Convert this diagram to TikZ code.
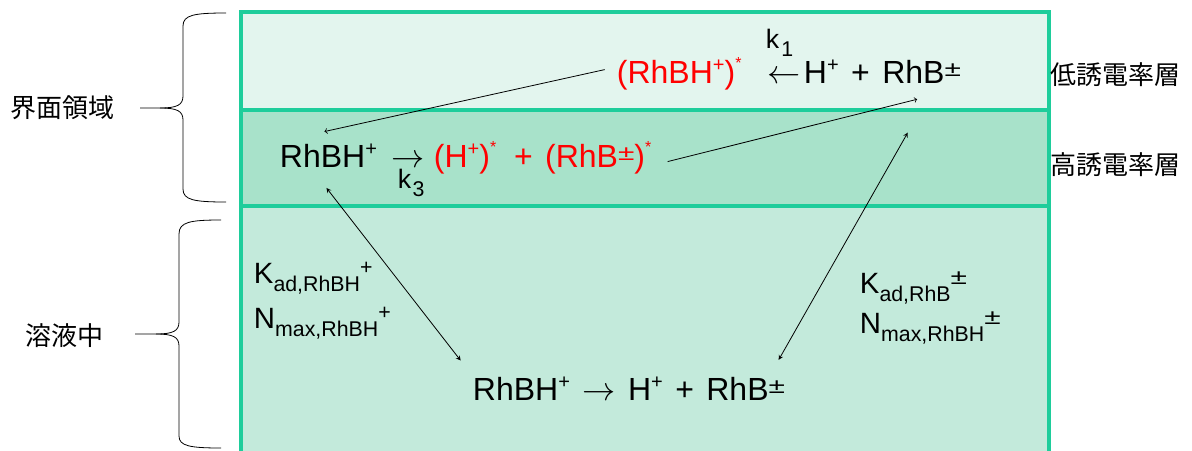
\documentclass[tikz,border=0pt]{standalone}
\usepackage{graphicx}
\usepackage{fontspec}
\setmainfont{Liberation Sans}[WordSpace=1.4]
\newfontfamily\jpfont{Noto Sans CJK JP}
\usetikzlibrary{arrows}

\definecolor{edgegreen}{RGB}{30,205,155}
\definecolor{lowband}{RGB}{227,245,238}
\definecolor{highband}{RGB}{168,226,202}
\definecolor{bulkband}{RGB}{195,234,219}

\newcommand\wpm{\scalebox{1.4}[1]{±}}
\newcommand\chp{\raisebox{0.36em}{\fontsize{15}{15}\selectfont +}}
\newcommand\chpm{\raisebox{0.2em}{\fontsize{16}{16}\selectfont \wpm}}
\newcommand\chst{\raisebox{0.45em}{\fontsize{12}{12}\selectfont *}}
\newcommand\chsub[1]{\raisebox{-0.3em}{\fontsize{16}{16}\selectfont #1}}
\newcommand\chsup[1]{\raisebox{0.28em}{\fontsize{16}{16}\selectfont #1}}

\begin{document}
\begin{tikzpicture}[>=stealth, x=0.75pt, y=-0.75pt,
    chem/.style={inner sep=2pt, font=\fontsize{24}{28}\selectfont},
    rate/.style={inner sep=2pt, font=\fontsize{20}{24}\selectfont},
    coef/.style={inner sep=2pt, font=\fontsize{22}{26}\selectfont},
    zone/.style={inner sep=2pt, font=\jpfont\fontsize{19.5}{22}\selectfont},
    band/.style={draw=edgegreen, line width=3pt}]
        \useasboundingbox (0,0) rectangle (1192,450);
        \clip (0,0) rectangle (1192,450);
        % layers
        \draw[band, fill=bulkband] (241,206) rectangle (1049,470);
        \draw[band, fill=highband] (241,110) rectangle (1049,206);
        \draw[band, fill=lowband] (241,12) rectangle (1049,110);
        % low dielectric layer
        \node[chem, text=red, anchor=base west] (lowL) at (614,83) {(RhBH\chp)\chst};
        \node[chem, anchor=base] (lowArr) at (784,83) {$\leftarrow$};
        \node[rate, anchor=base west] (k1) at (763,48) {k\kern1.5pt\chsub{1}};
        \node[chem, anchor=base west] (lowR) at (801,83) {H\chp{} + RhB\chpm};
        % high dielectric layer
        \node[chem, anchor=base west] (midL) at (277,167) {RhBH\chp};
        \node[chem, anchor=base] (midArr) at (408,167) {$\rightarrow$};
        \node[rate, anchor=base west] (k3) at (395,188) {k\kern1pt\chsub{3}};
        \node[chem, text=red, anchor=base west] (midR) at (431,167) {(H\chp)\chst\hspace{4pt} + (RhB\chpm)\chst};
        % bulk
        \node[chem, anchor=base west] (bot) at (470,400) {RhBH\chp{} $\rightarrow$ H\chp{} + RhB\chpm};
        \node[coef, anchor=base west] (kadL) at (251,283) {K\chsub{ad,RhBH}\chsup{+}};
        \node[coef, anchor=base west] (nmaxL) at (251,328) {N\chsub{max,RhBH}\chsup{+}};
        \node[coef, anchor=base west] (kadR) at (857,293) {K\chsub{ad,RhB}\chsup{\wpm}};
        \node[coef, anchor=base west] (nmaxR) at (857,333) {N\chsub{max,RhBH}\chsup{\wpm}};
        % zone names
        \node[zone, anchor=west] (lowz) at (1048,75) {低誘電率層};
        \node[zone, anchor=west] (highz) at (1048,165) {高誘電率層};
        \node[zone, anchor=west] (ifc) at (8,108) {界面領域};
        \node[zone, anchor=west] (bulk) at (23,336) {溶液中};
        % braces
        \draw[line width=0.6pt] (226,13) .. controls (194,13) and (183,15) .. (183,26) -- (183,96)
            .. controls (183,105) and (177,108) .. (160,108) -- (140,108);
        \draw[line width=0.6pt] (160,108) .. controls (177,108) and (183,111) .. (183,120) -- (183,189)
            .. controls (183,200) and (194,202) .. (226,202);
        \draw[line width=0.6pt] (221,220) .. controls (190,220) and (179,222) .. (179,234) -- (179,322)
            .. controls (179,331) and (173,334) .. (156,334) -- (135,334);
        \draw[line width=0.6pt] (156,334) .. controls (173,334) and (179,337) .. (179,346) -- (179,436)
            .. controls (179,446) and (190,448) .. (221,448);
        % transfers
        \draw[-to, line width=0.6pt] ([xshift=-7pt,yshift=3pt]lowL.west) -- ([xshift=-3pt,yshift=7pt]midL.north);
        \draw[-to, line width=0.6pt] ([xshift=10pt,yshift=-3pt]midR.east) -- ([xshift=26pt,yshift=-10pt]lowR.south);
        \draw[<->, line width=0.6pt] ([xshift=-1.5pt,yshift=-13.5pt]midL.south) -- ([xshift=-7pt,yshift=10pt]bot.north west);
        \draw[<->, line width=0.6pt] ([xshift=19pt,yshift=-35pt]lowR.south) -- ([xshift=-7pt,yshift=10.5pt]bot.north east);
    \end{tikzpicture}
\end{document}
